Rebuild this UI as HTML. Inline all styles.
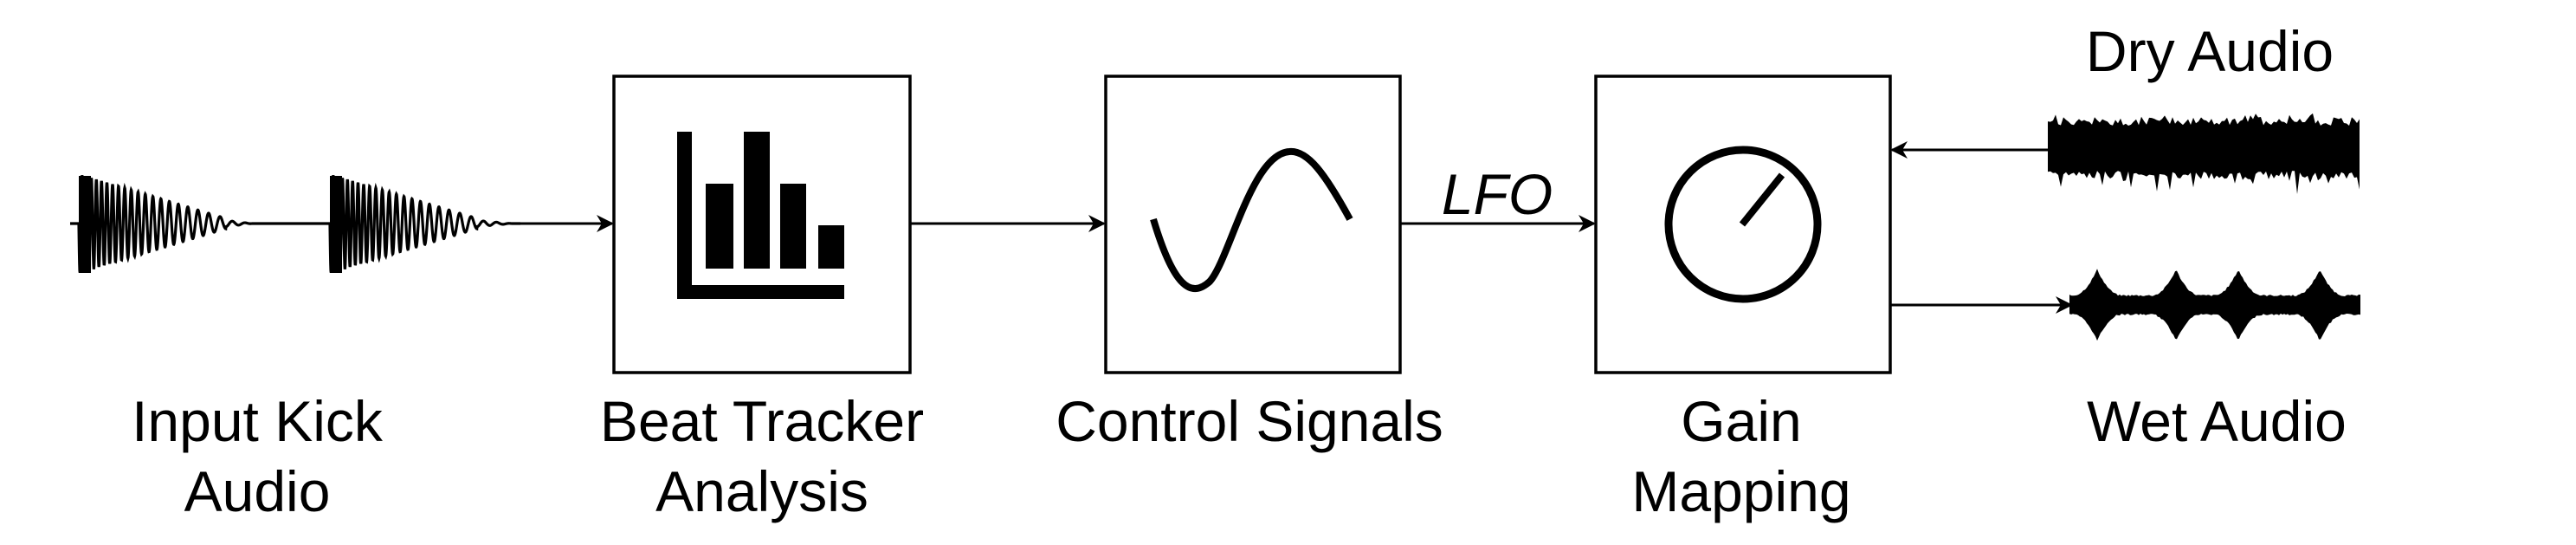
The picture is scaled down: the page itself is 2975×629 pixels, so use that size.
<!DOCTYPE html>
<html><head><meta charset="utf-8">
<style>
html,body{margin:0;padding:0;background:#fff;}
svg{display:block;}
text{font-family:"Liberation Sans",Arial,sans-serif;font-size:66px;fill:#000;}
</style></head>
<body>
<svg id="s" width="2975" height="629" viewBox="0 0 2975 629" xmlns="http://www.w3.org/2000/svg">
<defs>
<marker id="ah" viewBox="0 0 20 20" refX="18" refY="10" markerWidth="20" markerHeight="20" markerUnits="userSpaceOnUse" orient="auto">
<path d="M0,0 L20,10 L0,20 L6,10 Z" fill="#000"/>
</marker>
</defs>
<rect x="0" y="0" width="2975" height="629" fill="#fff"/>
<rect x="709" y="88" width="342" height="342" fill="none" stroke="#000" stroke-width="3.5"/>
<rect x="1277" y="88" width="340" height="342" fill="none" stroke="#000" stroke-width="3.5"/>
<rect x="1843" y="88" width="340" height="342" fill="none" stroke="#000" stroke-width="3.5"/>
<g stroke="#000" stroke-width="3" fill="none">
<line x1="601" y1="258" x2="707" y2="258" marker-end="url(#ah)"/>
<line x1="1051" y1="258" x2="1275" y2="258" marker-end="url(#ah)"/>
<line x1="1617" y1="258" x2="1841" y2="258" marker-end="url(#ah)"/>
<line x1="2365" y1="173" x2="2185" y2="173" marker-end="url(#ah)"/>
<line x1="2183" y1="352" x2="2392" y2="352" marker-end="url(#ah)"/>
</g>
<g fill="#000">
<rect x="782" y="152" width="17" height="193"/>
<rect x="782" y="329" width="193" height="16"/>
<rect x="815" y="212" width="32" height="98"/>
<rect x="859" y="152" width="30" height="158"/>
<rect x="901" y="212" width="30" height="98"/>
<rect x="945" y="260" width="30" height="50"/>
</g>
<path d="M1332,253 C1355,330 1375,345 1397,325 C1420,300 1445,178 1489,175 C1510,173 1530,200 1559,253" fill="none" stroke="#000" stroke-width="8"/>
<circle cx="2013" cy="259" r="86" fill="none" stroke="#000" stroke-width="9"/>
<line x1="2012" y1="259" x2="2058" y2="202" stroke="#000" stroke-width="8"/>
<rect x="91" y="203" width="14" height="112" fill="#000"/>
<rect x="381" y="203" width="14" height="112" fill="#000"/>
<path id="kick" fill="none" stroke="#000" stroke-width="3.2"/>
<path id="dry" fill="#000"/>
<path id="wet" fill="#000"/>
<text x="297" y="509" text-anchor="middle">Input Kick</text>
<text x="297" y="590" text-anchor="middle">Audio</text>
<text x="880" y="509" text-anchor="middle">Beat Tracker</text>
<text x="880" y="590" text-anchor="middle">Analysis</text>
<text x="1443" y="509" text-anchor="middle">Control Signals</text>
<text x="2011" y="509" text-anchor="middle">Gain</text>
<text x="2011" y="590" text-anchor="middle">Mapping</text>
<text x="2560" y="509" text-anchor="middle">Wet Audio</text>
<text x="2552" y="82" text-anchor="middle">Dry Audio</text>
<text x="1729" y="247" text-anchor="middle" font-style="italic">LFO</text>
</svg>
<script>
(function(){
  var d="M81,258 ";
  function kick(x0,len){
    var s="";
    for(var i=0;i<=len*4;i++){
      var t=i/4, x=x0+t;
      var env;
      if(t<170) env=57*(1-t/190);
      else env=57*(20/190)*Math.max(0,(len-t)/(len-170))*0.6;
      var ph=2*Math.PI*(t/(5+t*0.02));
      s+="L"+x.toFixed(2)+","+(258+env*Math.sin(ph)).toFixed(2)+" ";
    }
    return s;
  }
  d+="L91,258 "+kick(91,200)+"L381,258 "+kick(381,210)+"L601,258";
  document.getElementById("kick").setAttribute("d",d);
  var seed=7;function r(){seed=(seed*9301+49297)%233280;return seed/233280;}
  var top=[],bot=[];
  for(var x=2365;x<=2726;x+=3){
    top.push([x,173-(28+r()*10+(r()<0.15?r()*12:0))]);
    bot.push([x,173+(24+r()*10+(r()<0.15?r()*20:0))]);
  }
  var p="M"+top.map(function(a){return a[0]+","+a[1].toFixed(1)}).join(" L");
  p+=" L"+bot.reverse().map(function(a){return a[0]+","+a[1].toFixed(1)}).join(" L")+" Z";
  document.getElementById("dry").setAttribute("d",p);
  var peaks=[2422,2513,2585,2679];
  top=[];bot=[];
  for(var x=2390;x<=2726;x+=2){
    var e=10;
    peaks.forEach(function(pk){var dd=Math.abs(x-pk);var v=Math.max(0,1-dd/28);e=Math.max(e,10+30*v*v);});
    top.push([x,352-e-r()*2]);
    bot.push([x,352+e+r()*2]);
  }
  p="M"+top.map(function(a){return a[0]+","+a[1].toFixed(1)}).join(" L");
  p+=" L"+bot.reverse().map(function(a){return a[0]+","+a[1].toFixed(1)}).join(" L")+" Z";
  document.getElementById("wet").setAttribute("d",p);
})();
</script>
</body></html>
